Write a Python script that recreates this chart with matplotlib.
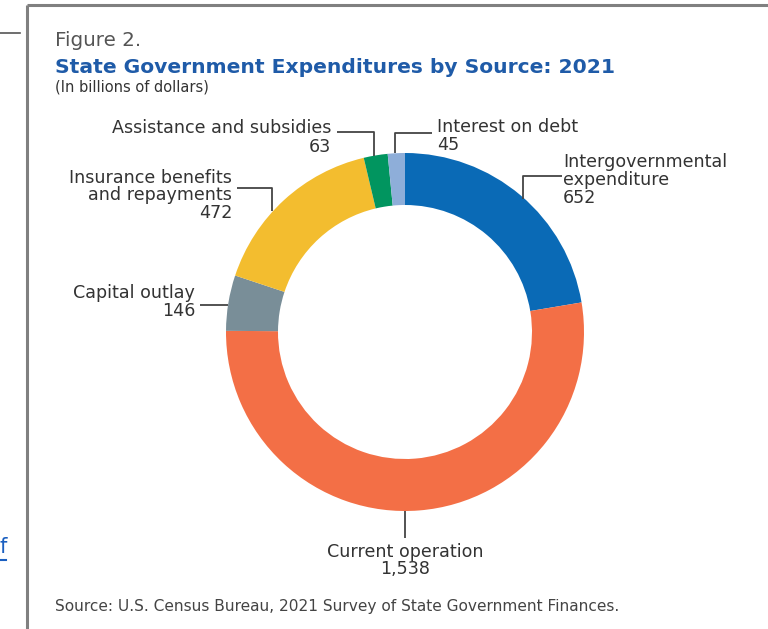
import matplotlib
matplotlib.use("Agg")
import matplotlib.pyplot as plt

# ---- data ----
categories = ["Intergovernmental\nexpenditure", "Current operation", "Capital outlay",
              "Insurance benefits\nand repayments", "Assistance and subsidies", "Interest on debt"]
values = [652, 1538, 146, 472, 63, 45]
value_labels = ["652", "1,538", "146", "472", "63", "45"]
colors = ["#0a6ab6", "#f36f46", "#798e98", "#f3bd2f", "#01955f", "#8eaed9"]

W, H = 768, 629
def Y(y):
    return H - y

fig = plt.figure(figsize=(W / 100, H / 100), dpi=100)
ax = fig.add_axes([0, 0, 1, 1])

cx, cy, R = 405, 332, 179
ax.pie(values, colors=colors, startangle=90, counterclock=False,
       center=(cx, Y(cy)), radius=R,
       wedgeprops=dict(width=52, edgecolor="none", linewidth=0))
ax.set_xlim(0, W)
ax.set_ylim(0, H)
ax.set_aspect("equal")
ax.axis("off")

# frame of the screenshot
ax.plot([27, W], [Y(5), Y(5)], color="#808080", lw=2.2, solid_capstyle="butt")
ax.plot([27, 27], [Y(5), Y(H)], color="#808080", lw=2.2, solid_capstyle="butt")
ax.plot([0, 20], [Y(33), Y(33)], color="#555555", lw=1.2)
ax.text(0, Y(553), "f", color="#1a5fc0", fontsize=15, ha="left", va="baseline")
ax.plot([0, 6], [Y(560), Y(560)], color="#1a5fc0", lw=1.5)

# titles
ax.text(55, Y(46), "Figure 2.", color="#555555", fontsize=14.3, ha="left", va="baseline")
ax.text(55, Y(73), "State Government Expenditures by Source: 2021", color="#1f5ba8",
        fontsize=14.6, fontweight="bold", ha="left", va="baseline")
ax.text(55, Y(92), "(In billions of dollars)", color="#333333", fontsize=10.5,
        ha="left", va="baseline")
ax.text(55, Y(611), "Source: U.S. Census Bureau, 2021 Survey of State Government Finances.",
        color="#444444", fontsize=11.1, ha="left", va="baseline")

lc = "#444444"
tc = "#333333"
fs = 12.6
lw = 1.3

def leader(pts):
    xs = [p[0] for p in pts]
    ys = [Y(p[1]) for p in pts]
    ax.plot(xs, ys, color=lc, lw=lw, solid_capstyle="butt")

def label(x, y0, lines, ha, step=17.5):
    for i, s in enumerate(lines):
        ax.text(x, Y(y0 + i * step), s, color=tc, fontsize=fs, ha=ha, va="baseline")

# Intergovernmental expenditure
leader([(562, 176), (523, 176), (523, 199)])
label(563, 167, categories[0].split("\n") + [value_labels[0]], "left", step=18)
# Interest on debt
leader([(432, 133), (395, 133), (395, 153)])
label(437, 132, [categories[5], value_labels[5]], "left")
# Assistance and subsidies
leader([(337, 132), (374, 132), (374, 156)])
label(331, 133, [categories[4], value_labels[4]], "right", step=18.5)
# Insurance benefits
leader([(237, 188), (272, 188), (272, 211)])
label(232, 183, categories[3].split("\n") + [value_labels[3]], "right")
# Capital outlay
leader([(200, 305), (228, 305)])
label(195, 298, [categories[2], value_labels[2]], "right", step=17.5)
# Current operation
leader([(405, 511), (405, 538)])
label(405, 557, [categories[1], value_labels[1]], "center", step=17)

fig.savefig("out.png", dpi=100)
